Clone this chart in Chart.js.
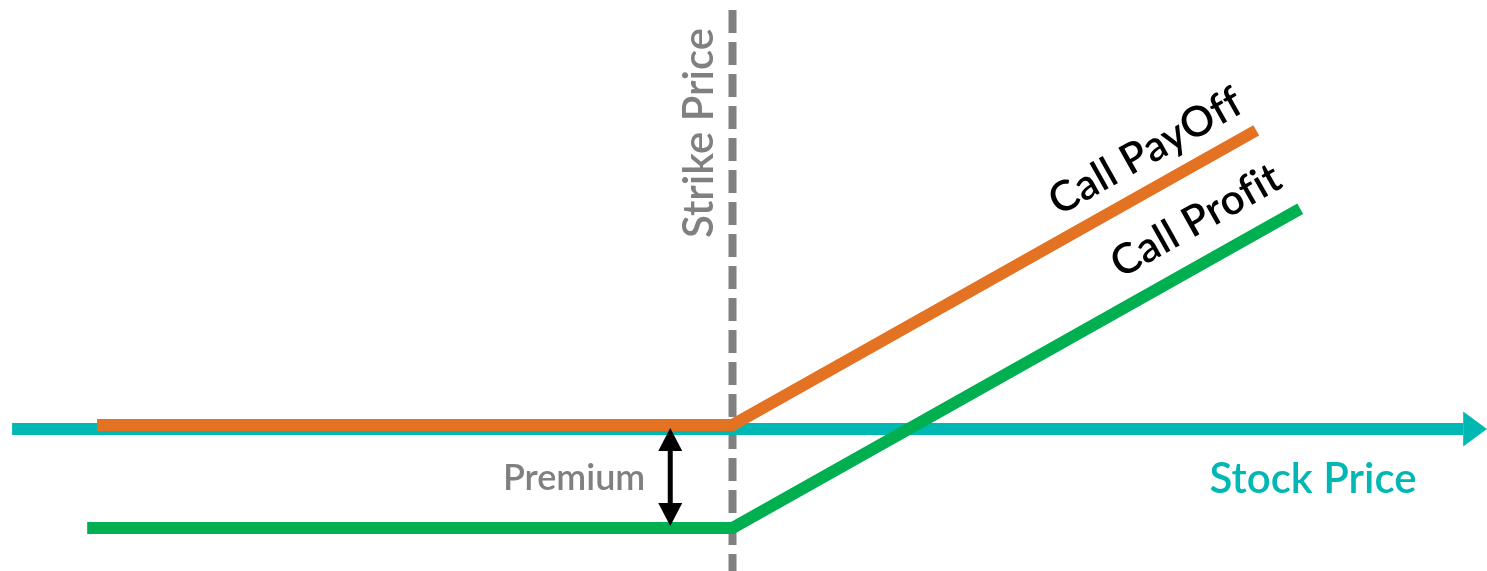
<!DOCTYPE html>
<html>
<head>
<meta charset="utf-8">
<title>Call Option Payoff</title>
<script src="https://cdn.jsdelivr.net/npm/chart.js@4.4.1/dist/chart.umd.min.js"></script>
<style>
  html, body { margin: 0; padding: 0; background: #ffffff; }
  #wrap { position: relative; width: 1487px; height: 571px; }
</style>
</head>
<body>
<div id="wrap"><canvas id="payoffChart"></canvas></div>
<script>
// Option terms
const strike = 20;
const premium = 5;

// Call payoff: flat at zero, then rising past the strike
const payoffX = [2.65, 20, 34.3];
const payoffY = [0, 0, 14.3];

// Call profit: payoff less the premium paid
const profitX = [2.38, 20, 35.5];
const profitY = [-5, -5, 10.5];

// Stock price axis (drawn as a line with an arrow head)
const axisX = [0.33, 39.95];
const axisY = [-0.2, -0.2];
const axisTipX = 40.6;

// Strike marker and premium arrow
const strikeLineY = [20.15, -7.1];
const premiumArrowX = 18.3;
const premiumArrowY = [-0.15, -4.9];

// Text labels
const labels = {
    strike: 'Strike Price',
    premium: 'Premium',
    stock: 'Stock Price',
    payoff: 'Call PayOff',
    profit: 'Call Profit'
};
const payoffLabelX = 31.76;
const profitLabelX = 33.2;
const stockLabelX = 35.85;

const COLORS = {
    teal: '#00b8b3',
    orange: '#e37222',
    green: '#00b050',
    gray: '#808080',
    black: '#000000'
};

const FONT_BIG = '600 42px Lato';
const FONT_SMALL = '600 36px Lato';

const toPoints = (xs, ys) => xs.map((x, i) => ({ x: x, y: ys[i] }));

// Arrow heads, rotated text and other annotations
const annotations = {
    id: 'annotations',
    afterDatasetsDraw(chart) {
        const { ctx, scales } = chart;
        const xs = scales.x, ys = scales.y;
        ctx.save();

        // axis arrow head
        const baseX = xs.getPixelForValue(axisX[1]);
        const tipX = xs.getPixelForValue(axisTipX);
        const axPx = ys.getPixelForValue(axisY[1]);
        ctx.fillStyle = COLORS.teal;
        ctx.beginPath();
        ctx.moveTo(baseX, axPx - 17.5);
        ctx.lineTo(tipX, axPx);
        ctx.lineTo(baseX, axPx + 17.5);
        ctx.closePath();
        ctx.fill();

        // premium double arrow heads
        const ax = xs.getPixelForValue(premiumArrowX);
        const topTip = ys.getPixelForValue(premiumArrowY[0]);
        const botTip = ys.getPixelForValue(premiumArrowY[1]);
        ctx.fillStyle = COLORS.black;
        ctx.beginPath();
        ctx.moveTo(ax, topTip);
        ctx.lineTo(ax + 12, topTip + 23);
        ctx.lineTo(ax - 12, topTip + 23);
        ctx.closePath();
        ctx.fill();
        ctx.beginPath();
        ctx.moveTo(ax, botTip);
        ctx.lineTo(ax + 12, botTip - 23);
        ctx.lineTo(ax - 12, botTip - 23);
        ctx.closePath();
        ctx.fill();

        // Strike Price (vertical)
        const sx = xs.getPixelForValue(strike);
        ctx.save();
        ctx.translate(sx - 20, 133);
        ctx.rotate(-Math.PI / 2);
        ctx.font = FONT_BIG;
        ctx.fillStyle = COLORS.gray;
        ctx.textAlign = 'center';
        ctx.textBaseline = 'alphabetic';
        ctx.fillText(labels.strike, 0, 0);
        ctx.restore();

        // Premium
        const midPx = (ys.getPixelForValue(0) + ys.getPixelForValue(-premium)) / 2;
        ctx.font = FONT_SMALL;
        ctx.fillStyle = COLORS.gray;
        ctx.textAlign = 'right';
        ctx.fillText(labels.premium, ax - 25, midPx + 14);

        // Stock Price
        ctx.font = FONT_BIG;
        ctx.fillStyle = COLORS.teal;
        ctx.textAlign = 'center';
        ctx.fillText(labels.stock, xs.getPixelForValue(stockLabelX), axPx + 64);

        // labels along the sloped segments
        const slopeLabel = (text, lx, xArr, yArr, gap) => {
            const x0 = xs.getPixelForValue(xArr[1]), y0 = ys.getPixelForValue(yArr[1]);
            const x1 = xs.getPixelForValue(xArr[2]), y1 = ys.getPixelForValue(yArr[2]);
            const ang = Math.atan2(y1 - y0, x1 - x0);
            const px = xs.getPixelForValue(lx);
            const py = y0 + (px - x0) * (y1 - y0) / (x1 - x0);
            ctx.save();
            ctx.translate(px, py);
            ctx.rotate(ang);
            ctx.font = FONT_BIG;
            ctx.letterSpacing = '0.4px'; // keeps "fi" as two glyphs
            ctx.fillStyle = COLORS.black;
            ctx.textAlign = 'center';
            ctx.fillText(text, 0, -gap);
            ctx.restore();
        };
        slopeLabel(labels.payoff, payoffLabelX, payoffX, payoffY, 22);
        slopeLabel(labels.profit, profitLabelX, profitX, profitY, 27);

        ctx.restore();
    }
};

const ctx = document.getElementById('payoffChart').getContext('2d');
new Chart(ctx, {
    type: 'line',
    data: {
        datasets: [
            {
                // strike marker
                data: [{ x: strike, y: strikeLineY[0] }, { x: strike, y: strikeLineY[1] }],
                borderColor: COLORS.gray,
                borderWidth: 8,
                borderDash: [23, 9],
                order: 5
            },
            {
                data: toPoints(axisX, axisY),
                borderColor: COLORS.teal,
                borderWidth: 12,
                order: 4
            },
            {
                data: toPoints(payoffX, payoffY),
                borderColor: COLORS.orange,
                borderWidth: 12,
                order: 3
            },
            {
                data: toPoints(profitX, profitY),
                borderColor: COLORS.green,
                borderWidth: 12,
                order: 2
            },
            {
                // premium arrow shaft
                data: [{ x: premiumArrowX, y: premiumArrowY[0] - 0.5 }, { x: premiumArrowX, y: premiumArrowY[1] + 0.5 }],
                borderColor: COLORS.black,
                borderWidth: 5,
                order: 1
            }
        ]
    },
    options: {
        responsive: true,
        maintainAspectRatio: false,
        animation: false,
        layout: { padding: 0 },
        elements: {
            point: { radius: 0, hoverRadius: 0 },
            line: { tension: 0, borderCapStyle: 'butt', borderJoinStyle: 'miter', fill: false }
        },
        plugins: {
            legend: { display: false },
            tooltip: { enabled: false }
        },
        scales: {
            x: { type: 'linear', min: 0, max: 40.6, display: false },
            y: { type: 'linear', min: -7.09, max: 20.63, display: false }
        },
        events: []
    },
    plugins: [annotations]
});
</script>
</body>
</html>
